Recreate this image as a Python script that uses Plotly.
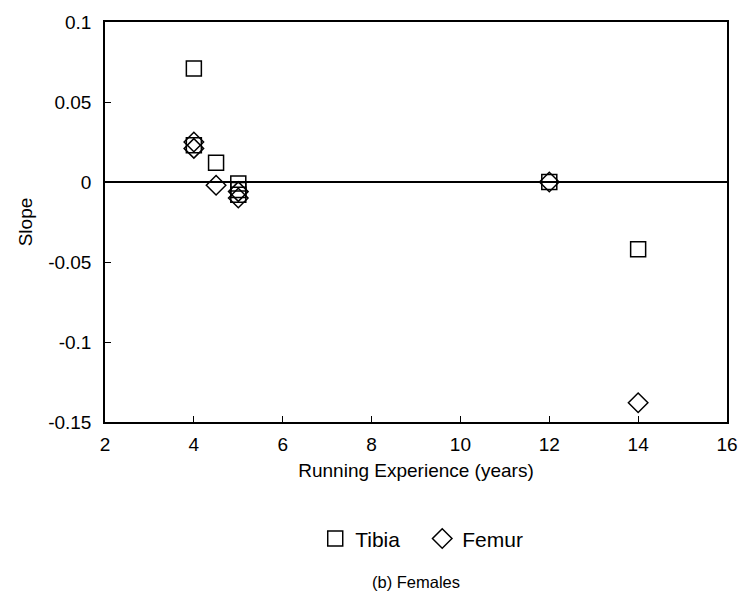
import plotly.graph_objects as go

tibia_x = [4, 4, 4.5, 5, 5, 5, 12, 14]
tibia_y = [0.071, 0.023, 0.012, -0.001, -0.005, -0.008, 0.0, -0.042]
femur_x = [4, 4, 4.5, 5, 5, 12, 14]
femur_y = [0.025, 0.021, -0.002, -0.006, -0.010, 0.0, -0.138]

x_ticks = [2, 4, 6, 8, 10, 12, 14, 16]
y_ticks = [-0.15, -0.1, -0.05, 0, 0.05, 0.1]
y_labels = ["-0.15", "-0.1", "-0.05", "0", "0.05", "0.1"]

FONT = "Liberation Sans, Arial, sans-serif"

fig = go.Figure()
fig.add_trace(go.Scatter(
    x=tibia_x, y=tibia_y, mode="markers", name="Tibia",
    marker=dict(symbol="square-open", size=15, color="black", line=dict(width=1.5)),
))
fig.add_trace(go.Scatter(
    x=femur_x, y=femur_y, mode="markers", name="Femur",
    marker=dict(symbol="diamond-open", size=15, color="black", line=dict(width=1.5)),
))

fig.update_layout(
    width=755, height=607,
    margin=dict(l=105, r=28, t=17, b=185),
    paper_bgcolor="white", plot_bgcolor="white",
    font=dict(family=FONT, size=19, color="black"),
    showlegend=True,
    legend=dict(orientation="h", x=0.51, xanchor="center", y=-0.292, yanchor="middle",
                font=dict(size=21), itemwidth=30, entrywidth=62, entrywidthmode="pixels",
                bgcolor="rgba(0,0,0,0)"),
    annotations=[dict(text="(b) Females", x=0.5, xref="paper", y=-0.399, yref="paper",
                      showarrow=False, font=dict(size=16.5), xanchor="center", yanchor="middle")],
)
fig.update_xaxes(
    range=[2, 16], tickvals=x_ticks, ticks="inside", ticklen=6, tickcolor="black",
    showline=True, linecolor="black", linewidth=1.5, mirror=True, showgrid=False,
    zeroline=False, title=dict(text="Running Experience (years)", font=dict(size=19), standoff=10),
    tickfont=dict(size=19), ticklabelstandoff=4,
)
fig.update_yaxes(
    range=[-0.15, 0.1], tickvals=y_ticks, ticktext=y_labels, ticks="inside", ticklen=6,
    tickcolor="black", showline=True, linecolor="black", linewidth=1.5, mirror=True,
    showgrid=False, zeroline=True, zerolinecolor="black", zerolinewidth=1.5,
    title=dict(text="Slope", font=dict(size=19), standoff=10), tickfont=dict(size=19),
    ticklabelstandoff=8,
)

fig.write_html("out.html")
